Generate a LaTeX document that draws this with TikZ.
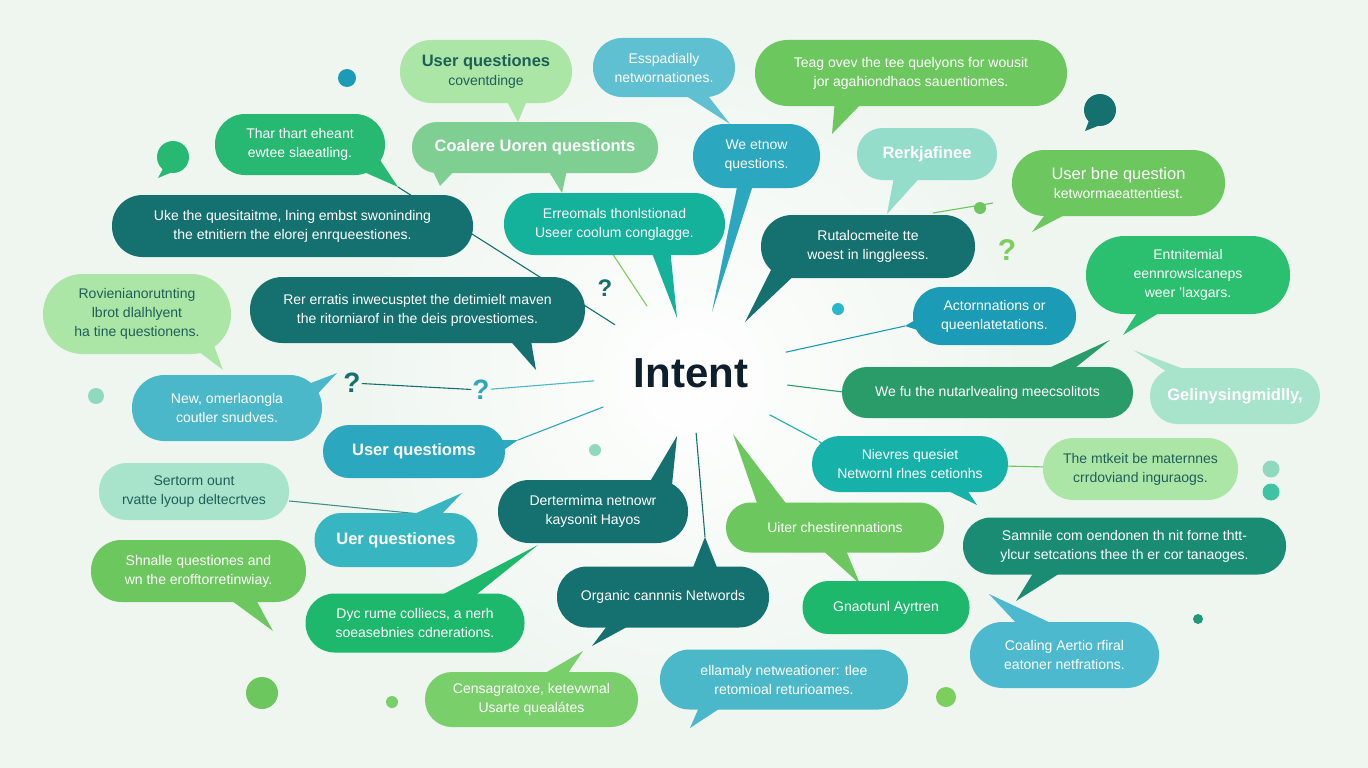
\documentclass[tikz,border=0pt]{standalone}
\usepackage{fontspec}
\setmainfont{Liberation Sans}
\usetikzlibrary{calc}
\definecolor{bg}{HTML}{EFF6F0}
\definecolor{lgr}{HTML}{ACE6A7}
\definecolor{mgr}{HTML}{6CC75E}
\definecolor{emr}{HTML}{27B872}
\definecolor{emr2}{HTML}{2BBF70}
\definecolor{sage}{HTML}{80CF92}
\definecolor{sky}{HTML}{5FC0D1}
\definecolor{sky2}{HTML}{4CB9CF}
\definecolor{blu}{HTML}{2BA7C0}
\definecolor{blud}{HTML}{1B9BB6}
\definecolor{mint}{HTML}{95DDCB}
\definecolor{mintl}{HTML}{A8E4CC}
\definecolor{dtl}{HTML}{15716F}
\definecolor{tgr}{HTML}{14B19B}
\definecolor{tcy}{HTML}{16B2AA}
\definecolor{tbl}{HTML}{4AB8C9}
\definecolor{tbl2}{HTML}{37B6C1}
\definecolor{fgr}{HTML}{2A9C6A}
\definecolor{dgt}{HTML}{1A8C74}
\definecolor{egr}{HTML}{1DB86C}
\definecolor{lmg}{HTML}{79CF6A}
\definecolor{ink}{HTML}{1E5F58}
\definecolor{navy}{HTML}{0F1E2C}
\definecolor{qgr}{HTML}{7CCF5C}
\definecolor{cyd}{HTML}{2AB7C9}
\definecolor{pmt}{HTML}{90D9BE}
\definecolor{pmt2}{HTML}{3EC4A2}
\definecolor{dsg}{HTML}{1D9A7A}
\newcommand\fb{\fontsize{14}{19}\selectfont}
\newcommand\fh{\fontsize{16.5}{20}\selectfont\bfseries}
\newcommand\ft{\fontsize{42}{48}\selectfont\bfseries}
\newcommand\bub[7]{\node[bubble, fill=#5, minimum width=#3pt, minimum height=#4pt, rounded corners={#4*0.5-0.5}, #6] (#1) at (#2) {#7};}
\newcommand\tl[4]{\fill[#1] (#2) -- (#3) -- (#4) -- cycle;}
\begin{document}
\begin{tikzpicture}[x=1pt,y=-1pt,
  bubble/.style={inner sep=2pt, align=center, text=white, font=\fb},
  conn/.style={line width=1.1pt},
  dotn/.style={circle, inner sep=0pt},
  qm/.style={font=\fontsize{28}{28}\selectfont\bfseries, inner sep=1pt}]
\fill[bg] (0,0) rectangle (1368,768);
\useasboundingbox (0,0) rectangle (1368,768);
\shade[inner color=white, outer color=bg] (691,380) circle (330pt);
% centre
\node[font=\ft, text=navy] (I) at (691,373) {Intent};
% named connector ends
\coordinate (e1) at (398,187);
\coordinate (e2) at (612,253);
\coordinate (e5) at (518,440);
\coordinate (e6) at (905,326);
\coordinate (e7) at (843,392);
\coordinate (e8) at (817,440);
\coordinate (e9) at (705,537);
\coordinate (afb) at (440,516);
\coordinate (o1) at (933,213);
\coordinate (o3) at (993,203);
\node[qm, text=dtl] (q1) at (352,383) {?};
\node[qm, text=blu] (q2) at (481,390) {?};
% connectors
\draw[conn, dtl] ($(I.center)!90pt!(e1)$) -- (e1);
\draw[conn, qgr] ($(I.center)!80pt!(e2)$) -- (e2);
\draw[conn, blu] ($(I.center)!94pt!(e5)$) -- (e5);
\draw[conn, blud] ($(I.center)!97pt!(e6)$) -- (e6);
\draw[conn, fgr] ($(I.center)!97pt!(e7)$) -- (e7);
\draw[conn, tcy] ($(I.center)!89pt!(e8)$) -- (e8);
\draw[conn, dtl] ($(I.center)!60pt!(e9)$) -- (e9);
\draw[conn, tbl] ($(I.center)!97pt!(q2)$) -- (q2);
\draw[conn, dtl] (q1) -- (q2);
\draw[conn, mgr] (o1) -- (o3);
% tails
\tl{lgr}{505,98}{528,98}{518,122}
\tl{sky}{680,92}{705,92}{730,124}
\tl{mgr}{835,100}{865,100}{832,134}
\tl{emr}{355,168}{380,160}{398,187}
\tl{emr}{165,165}{182,168}{158,178}
\tl{sage}{430,165}{460,165}{440,186}
\tl{sage}{545,165}{568,165}{562,193}
\tl{blu}{738,182}{754,182}{712,312}
\tl{mint}{895,172}{925,172}{887,214}
\tl{dtl}{1090,118}{1103,124}{1085,131}
\tl{mgr}{1050,208}{1078,208}{1032,232}
\tl{tgr}{650,248}{670,248}{677,318}
\tl{dtl}{772,268}{800,270}{745,322}
\tl{emr2}{1142,305}{1172,305}{1123,335}
\tl{lgr}{190,345}{212,340}{223,370}
\tl{dtl}{505,335}{530,335}{536,370}
\tl{blud}{922,316}{930,334}{905,326}
\tl{tbl}{298,388}{312,400}{337,373}
\tl{blu}{485,440}{492,458}{518,440}
\tl{fgr}{1040,372}{1070,372}{1110,340}
\tl{mintl}{1172,375}{1200,375}{1133,350}
\tl{tcy}{940,487}{965,487}{977,505}
\tl{tcy}{832,448}{840,462}{817,440}
\tl{tbl2}{405,518}{438,518}{462,493}
\tl{dtl}{648,485}{672,485}{677,436}
\tl{mgr}{228,598}{255,598}{273,631}
\tl{mgr}{758,506}{788,506}{733,434}
\tl{mgr}{820,548}{845,548}{860,584}
\tl{dgt}{1035,570}{1065,570}{1016,601}
\tl{dtl}{692,570}{718,570}{705,537}
\tl{dtl}{610,622}{636,622}{592,646}
\tl{egr}{436,598}{472,598}{538,545}
\tl{sky2}{1018,625}{1055,625}{989,594}
\tl{tbl}{700,705}{725,705}{690,728}
\tl{lmg}{540,676}{566,676}{583,651}
% line from AE to AF (before bubbles)
\node[bubble, fill=mintl, text=ink, minimum width=190pt, minimum height=57pt, rounded corners={27.5}] (AE) at (194,491.5) {Sertorm ount\\rvatte lyoup deltecrtves};
\draw[conn, dtl!80] (AE) -- (afb);
% bubbles
\bub{A}{486,71.5}{172}{63}{lgr}{text=ink}{{\fh User questiones}\\coventdinge}
\bub{B}{664,67.5}{142}{59}{sky}{}{Esspadially\\networnationes.}
\bub{C}{911,73}{312}{66}{mgr}{}{Teag ovev the tee quelyons for wousit\\jor agahiondhaos sauentiomes.}
\bub{E}{300,144.5}{170}{61}{emr}{}{Thar thart eheant\\ewtee slaeatling.}
\bub{G}{535,147.5}{246}{51}{sage}{font=\fh}{Coalere Uoren questionts}
\bub{H}{756.5,156}{127}{64}{blu}{}{We etnow\\questions.}
\bub{Ib}{927,154}{140}{52}{mint}{font=\fh}{Rerkjafinee}
\bub{K}{1118.5,183}{213}{66}{mgr}{}{{\fontsize{16.5}{20}\selectfont User bne question}\\ketwormaeattentiest.}
\bub{L}{292.5,226}{361}{62}{dtl}{}{Uke the quesitaitme, lning embst swoninding\\the etnitiern the elorej enrqueestiones.}
\bub{M}{614.5,224}{221}{62}{tgr}{}{Erreomals thonlstionad\\Useer coolum conglagge.}
\bub{N}{868,246.5}{214}{63}{dtl}{}{Rutalocmeite tte\\woest in linggleess.}
\bub{P}{1188,275}{204}{78}{emr2}{}{Entnitemial\\eennrowslcaneps\\weer 'laxgars.}
\bub{Q}{137,314}{188}{80}{lgr}{text=ink}{Rovienianorutnting\\lbrot dlalhlyent\\ha tine questionens.}
\bub{R}{417.5,310}{335}{66}{dtl}{}{Rer erratis inwecusptet the detimielt maven\\the ritorniarof in the deis provestiomes.}
\bub{T}{994.5,316}{163}{58}{blud}{}{Actornnations or\\queenlatetations.}
\bub{U}{227,408}{190}{66}{tbl}{}{New, omerlaongla\\coutler snudves.}
\bub{X}{414,451.5}{182}{53}{blu}{font=\fh}{User questioms}
\bub{Z}{987.5,392.5}{291}{51}{fgr}{}{We fu the nutarlvealing meecsolitots}
\bub{AA}{1235,396}{170}{56}{mintl}{font=\fh}{Gelinysingmidlly,}
\bub{AB}{910,464}{196}{56}{tcy}{}{Nievres quesiet\\Networnl rlnes cetionhs}
\bub{AC}{1140.5,469}{195}{62}{lgr}{text=ink}{The mtkeit be maternnes\\crrdoviand inguraogs.}
\draw[conn, mgr] (AB) -- (AC);
\bub{AF}{396,540}{163}{54}{tbl2}{font=\fh}{Uer questiones}
\bub{AG}{593,511.5}{190}{63}{dtl}{}{Dertermima netnowr\\kaysonit Hayos}
\bub{AH}{198.5,571}{215}{62}{mgr}{}{Shnalle questiones and\\wn the erofftorretinwiay.}
\bub{AI}{835,527.5}{218}{50}{mgr}{}{Uiter chestirennations}
\bub{AJ}{1124.5,546}{323}{57}{dgt}{}{Samnile com oendonen th nit forne thtt-\\ylcur setcations thee th er cor tanaoges.}
\bub{AK}{663,597}{212}{61}{dtl}{}{Organic cannnis Networds}
\bub{AL}{415,623}{219}{59}{egr}{}{Dyc rume colliecs, a nerh\\soeasebnies cdnerations.}
\bub{AM}{886,607.5}{167}{53}{egr}{}{Gnaotunl Ayrtren}
\bub{AN}{1064.5,655}{189}{66}{sky2}{}{Coaling Aertio rfiral\\eatoner netfrations.}
\bub{AP}{784,679.5}{248}{60}{tbl}{}{ellamaly netweationer: tlee\\retomioal returioames.}
\bub{AR}{531.5,699.5}{213}{55}{lmg}{}{Censagratoxe, ketevwnal\\Usarte quealátes}
% dots
\node[dotn, fill=blud, minimum size=18pt] (d1) at (347,78) {};
\node[dotn, fill=emr, minimum size=32pt] (d2) at (173,157) {};
\node[dotn, fill=dtl, minimum size=32pt] (d3) at (1100,110) {};
\node[dotn, fill=mgr, minimum size=12pt] (o2) at (980,208) {};
\node[dotn, fill=cyd, minimum size=12pt] (d4) at (838,309) {};
\node[dotn, fill=pmt, minimum size=16pt] (d5) at (96,396) {};
\node[dotn, fill=pmt, minimum size=12pt] (d6) at (595,450) {};
\node[dotn, fill=pmt, minimum size=17pt] (d7) at (1271,469) {};
\node[dotn, fill=pmt2, minimum size=17pt] (d8) at (1271,492) {};
\node[dotn, fill=dsg, minimum size=10pt] (d9) at (1198,619) {};
\node[dotn, fill=qgr, minimum size=20pt] (d10) at (946,697) {};
\node[dotn, fill=mgr, minimum size=32pt] (d11) at (262,693) {};
\node[dotn, fill=lmg, minimum size=12pt] (d12) at (392,702) {};
% question marks
\node[qm, text=dtl, font=\fontsize{24}{24}\selectfont\bfseries] (q3) at (605,288) {?};
\node[qm, text=qgr, font=\fontsize{30}{30}\selectfont\bfseries] (q4) at (1007,250) {?};
\end{tikzpicture}
\end{document}
